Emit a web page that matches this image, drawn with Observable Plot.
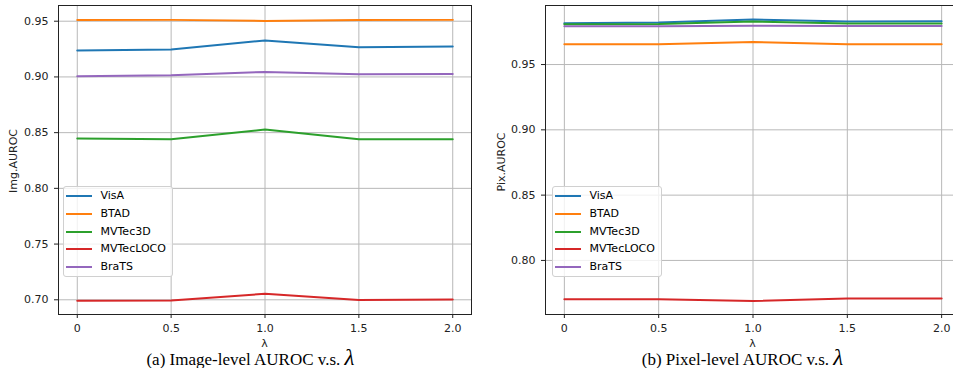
<!DOCTYPE html>
<html><head><meta charset="utf-8">
<script src="https://cdn.jsdelivr.net/npm/d3@7"></script>
<script src="https://cdn.jsdelivr.net/npm/@observablehq/plot@0.6"></script>
<style>
html,body{margin:0;padding:0;background:#fff;}
#wrap{position:relative;width:953px;height:368px;overflow:hidden;font-family:"DejaVu Sans",sans-serif;color:#222;}
.panel{position:absolute;top:0;}
.panel svg{max-width:none !important;}
.ylab{position:absolute;font-size:11px;white-space:nowrap;line-height:11px;transform:translate(-50%,-50%) rotate(-90deg);}
.xlab{position:absolute;font-size:11px;line-height:11px;transform:translateX(-50%);}
.cap{position:absolute;font-family:"Liberation Serif","Times New Roman",serif;font-size:17px;line-height:17px;white-space:nowrap;transform:translateX(-50%);color:#000;}
.cap .lam{font-style:italic;font-size:23px;line-height:0;}
.legend{position:absolute;border:1px solid #d0d0d0;border-radius:3px;background:rgba(255,255,255,0.8);font-size:11px;box-sizing:border-box;color:#000;}
.legend .row{position:relative;height:17.8px;}
.legend .sw{position:absolute;left:2px;top:8px;width:26px;height:2px;}
.legend .tx{position:absolute;left:36.5px;top:0;line-height:17.8px;white-space:nowrap;}
</style></head>
<body>
<div id="wrap"></div>
<script>
const lambdas = [0, 0.5, 1.0, 1.5, 2.0];
const xTickLabels = ["0", "0.5", "1.0", "1.5", "2.0"];
const datasets = ["VisA", "BTAD", "MVTec3D", "MVTecLOCO", "BraTS"];
const colors = ["#1f77b4", "#ff7f0e", "#2ca02c", "#d62728", "#9467bd"];

// Image-level AUROC
const imgVisA      = [0.9237, 0.9246, 0.9327, 0.9267, 0.9273];
const imgBTAD      = [0.9510, 0.9512, 0.9503, 0.9510, 0.9512];
const imgMVTec3D   = [0.8447, 0.8441, 0.8528, 0.8441, 0.8441];
const imgMVTecLOCO = [0.6991, 0.6994, 0.7054, 0.6998, 0.7003];
const imgBraTS     = [0.9006, 0.9015, 0.9045, 0.9024, 0.9027];

// Pixel-level AUROC
const pixVisA      = [0.9817, 0.9822, 0.9845, 0.9830, 0.9832];
const pixBTAD      = [0.9656, 0.9656, 0.9673, 0.9656, 0.9656];
const pixMVTec3D   = [0.9809, 0.9811, 0.9830, 0.9814, 0.9814];
const pixMVTecLOCO = [0.7702, 0.7702, 0.7690, 0.7708, 0.7708];
const pixBraTS     = [0.9794, 0.9794, 0.9797, 0.9795, 0.9795];

const yTicksImg = [0.70, 0.75, 0.80, 0.85, 0.90, 0.95];
const yTicksPix = [0.80, 0.85, 0.90, 0.95];

const wrap = document.getElementById("wrap");

function makePanel(series, yDomain, yTicks, width, left) {
  const rows = [];
  datasets.forEach((name, i) => series[i].forEach((v, j) => rows.push({lambda: lambdas[j], value: v, dataset: name})));
  const svg = Plot.plot({
    width, height: 340,
    marginLeft: 58, marginRight: 9, marginTop: 5, marginBottom: 26,
    style: {fontFamily: "DejaVu Sans, sans-serif", fontSize: "11px", color: "#222", background: "transparent", overflow: "visible", maxWidth: "none"},
    x: {domain: [-0.1, 2.1], label: null},
    y: {domain: yDomain, label: null},
    color: {domain: datasets, range: colors},
    marks: [
      Plot.gridX({ticks: lambdas, stroke: "#b8b8b8", strokeOpacity: 1, strokeWidth: 1}),
      Plot.gridY({ticks: yTicks, stroke: "#b8b8b8", strokeOpacity: 1, strokeWidth: 1}),
      Plot.line(rows, {x: "lambda", y: "value", z: "dataset", stroke: "dataset", strokeWidth: 2}),
      Plot.frame({stroke: "#222", strokeWidth: 1}),
      Plot.axisX({ticks: lambdas, tickFormat: d => xTickLabels[lambdas.indexOf(d)], tickSize: 4, tickPadding: 6, fontSize: 11, label: null}),
      Plot.axisY({ticks: yTicks, tickFormat: d3.format(".2f"), tickSize: 4, tickPadding: 6, fontSize: 11, label: null})
    ]
  });
  svg.style.maxWidth = "none";
  const holder = document.createElement("div");
  holder.className = "panel";
  holder.style.left = left + "px";
  holder.style.width = width + "px";
  holder.appendChild(svg);
  wrap.appendChild(holder);
}

function addDiv(cls, html, styles) {
  const d = document.createElement("div");
  d.className = cls;
  d.innerHTML = html;
  Object.assign(d.style, styles);
  wrap.appendChild(d);
  return d;
}

function addLegend(left, top) {
  const lg = addDiv("legend", "", {left: left + "px", top: top + "px", width: "110px", height: "91px"});
  datasets.forEach((name, i) => {
    const r = document.createElement("div");
    r.className = "row";
    r.innerHTML = `<div class="sw" style="background:${colors[i]}"></div><div class="tx">${name}</div>`;
    lg.appendChild(r);
  });
}

makePanel([imgVisA, imgBTAD, imgMVTec3D, imgMVTecLOCO, imgBraTS], [0.6868, 0.9641], yTicksImg, 480, 0);
makePanel([pixVisA, pixBTAD, pixMVTec3D, pixMVTecLOCO, pixBraTS], [0.7586, 0.9952], yTicksPix, 482, 487);

addLegend(63, 186);
addLegend(552, 186);

addDiv("ylab", "Img.AUROC", {left: "12.5px", top: "161px"});
addDiv("ylab", "Pix.AUROC", {left: "501px", top: "162px"});
addDiv("xlab", "λ", {left: "264.5px", top: "338px"});
addDiv("xlab", "λ", {left: "752.5px", top: "338px"});
addDiv("cap", '(a) Image-level AUROC v.s. <span class="lam">λ</span>', {left: "250.5px", top: "350.5px"});
addDiv("cap", '(b) Pixel-level AUROC v.s. <span class="lam">λ</span>', {left: "742.5px", top: "350.5px"});
</script>
</body></html>
